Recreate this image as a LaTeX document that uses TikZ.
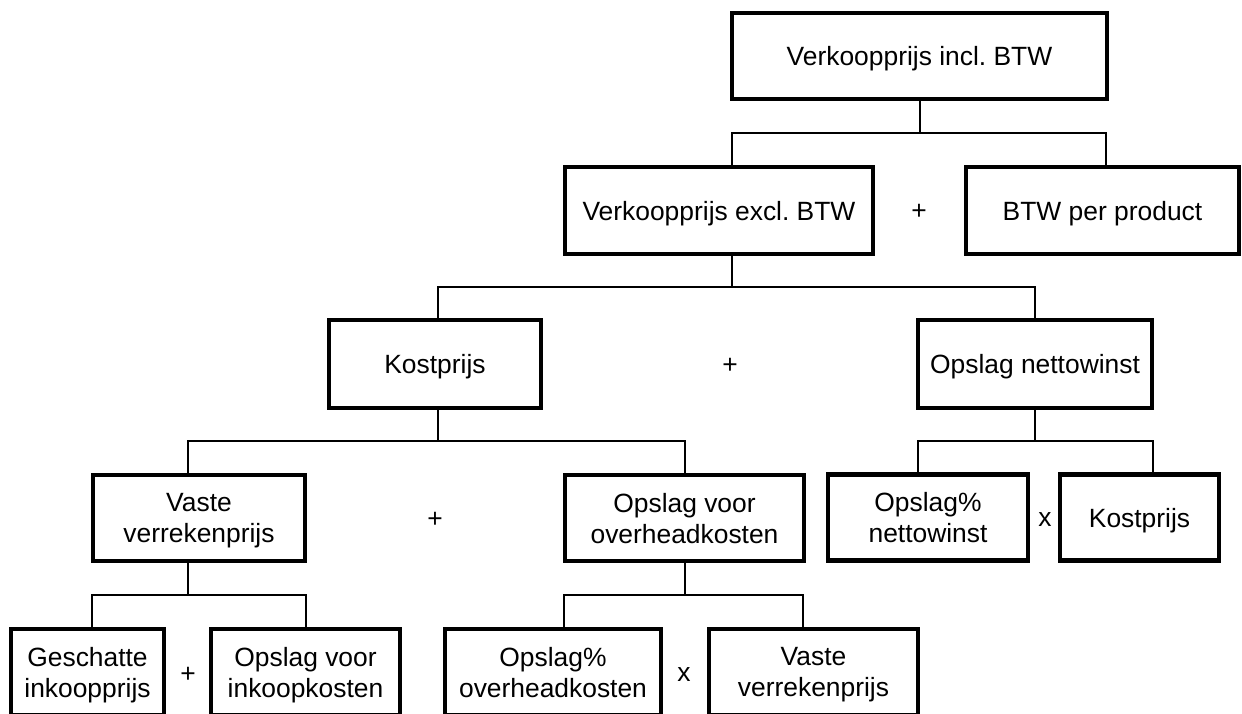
\documentclass[tikz,border=0pt]{standalone}
\usepackage{fontspec}
\setmainfont{Liberation Sans}
\frenchspacing
\tikzset{
  box/.style={draw, line width=4.5pt, inner sep=0pt, align=center, text depth=0pt, font=\fontsize{26.4}{31}\selectfont\frenchspacing},
  conn/.style={line width=2pt},
  op/.style={inner sep=0pt, font=\fontsize{26.4}{31}\selectfont}
}
\begin{document}
\begin{tikzpicture}[x=1pt,y=-1pt]
\useasboundingbox (0,0) rectangle (1242,713);
\clip (0,0) rectangle (1242,713);
% level 0
\node[box, minimum width=375pt, minimum height=86pt] (A) at (919.5,56) {Verkoopprijs incl. BTW};
% level 1
\node[box, minimum width=308pt, minimum height=87pt] (B) at (719,210.5) {Verkoopprijs excl. BTW};
\node[box, minimum width=273pt, minimum height=87pt] (C) at (1102.5,210.5) {BTW per product};
% level 2
\node[box, minimum width=212pt, minimum height=88pt] (D) at (435,364) {Kostprijs};
\node[box, minimum width=234pt, minimum height=88pt] (E) at (1035,364) {Opslag nettowinst};
% level 3
\node[box, minimum width=212pt, minimum height=86pt] (F) at (199,518) {Vaste\\verrekenprijs};
\node[box, minimum width=239pt, minimum height=86pt] (G) at (684.5,518) {Opslag voor\\overheadkosten};
\node[box, minimum width=200pt, minimum height=86pt] (H) at (928,517.5) {Opslag\%\\nettowinst};
\node[box, minimum width=159pt, minimum height=86pt] (I) at (1139.5,517.5) {Kostprijs};
% level 4
\node[box, minimum width=153pt, minimum height=86pt] (J) at (87.5,672) {Geschatte\\inkoopprijs};
\node[box, minimum width=189pt, minimum height=86pt] (K) at (305.5,672) {Opslag voor\\inkoopkosten};
\node[box, minimum width=216pt, minimum height=86pt] (L) at (553,672) {Opslag\%\\overheadkosten};
\node[box, minimum width=209pt, minimum height=86pt] (M) at (813.5,672) {Vaste\\verrekenprijs};
% operators
\node[op] (p1) at (919,212) {+};
\node[op] (p2) at (730,366) {+};
\node[op] (p3) at (435,520) {+};
\node[op] (p4) at (1045,520) {x};
\node[op] (p5) at (188,675) {+};
\node[op] (p6) at (684,675) {x};
% connectors
\draw[conn] (A.south) -- ++(0,32) coordinate (a1);
\draw[conn] ([xshift=13pt]B.north) |- (a1) -| ([xshift=3.5pt]C.north);
\draw[conn] ([xshift=13pt]B.south) -- ++(0,31) coordinate (b1);
\draw[conn] ([xshift=3pt]D.north) |- (b1) -| (E.north);
\draw[conn] ([xshift=3pt]D.south) -- ++(0,31) coordinate (d1);
\draw[conn] ([xshift=-11pt]F.north) |- (d1) -| ([xshift=0.5pt]G.north);
\draw[conn] (E.south) -- ++(0,31) coordinate (e1);
\draw[conn] ([xshift=-10pt]H.north) |- (e1) -| ([xshift=13.5pt]I.north);
\draw[conn] ([xshift=-11pt]F.south) -- ++(0,32) coordinate (f1);
\draw[conn] ([xshift=4.5pt]J.north) |- (f1) -| ([xshift=0.5pt]K.north);
\draw[conn] ([xshift=0.5pt]G.south) -- ++(0,32) coordinate (g1);
\draw[conn] ([xshift=11pt]L.north) |- (g1) -| ([xshift=-10.5pt]M.north);
\end{tikzpicture}
\end{document}
